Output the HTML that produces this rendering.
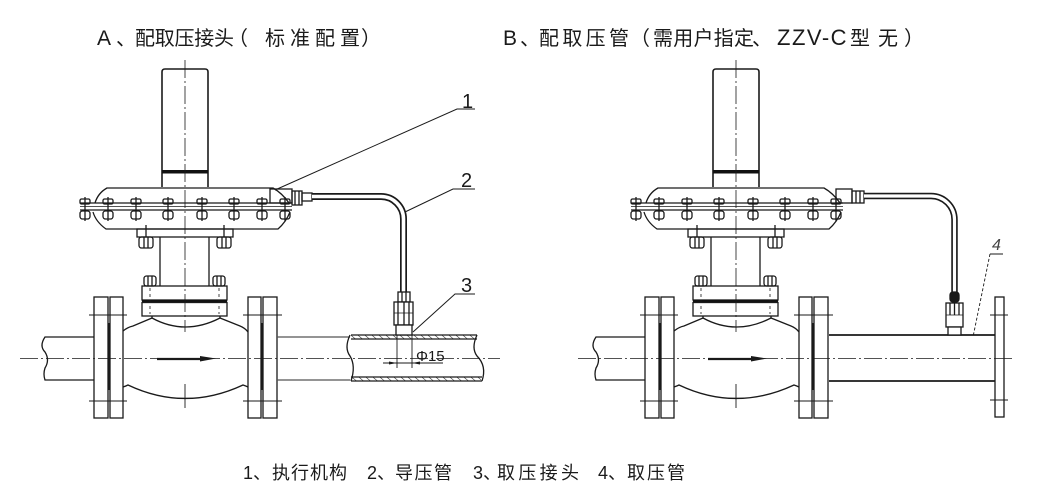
<!DOCTYPE html>
<html><head><meta charset="utf-8"><style>
html,body{margin:0;padding:0;background:#fff;}
svg{display:block;}
text{font-family:"Liberation Sans","Noto Sans CJK SC",sans-serif;fill:#1a1a1a;}
</style></head><body>
<svg width="1060" height="501" viewBox="0 0 1060 501" xmlns="http://www.w3.org/2000/svg">
<defs>
<pattern id="hat" width="4.5" height="4.5" patternUnits="userSpaceOnUse" patternTransform="rotate(-50)"><line x1="0" y1="0" x2="0" y2="4.5" stroke="#222" stroke-width="1.1"/></pattern>
<g id="valve" fill="none" stroke="#1a1a1a" stroke-width="1.3">
  <path d="M162,187 V72 Q162,69 165,69 H205 Q208,69 208,72 V187" stroke-width="1.6"/>
  <rect x="162" y="170" width="46" height="3.5" fill="#111" stroke="none"/>
  <path d="M95,203 Q98,193 107,188 H273 Q282,193 289,203"/>
  <path d="M93,212 Q96,222 106,229 H278 Q286,222 290,212"/>
  <line x1="80" y1="203" x2="292" y2="203"/>
  <line x1="80" y1="206.5" x2="292" y2="206.5" stroke-width="0.8"/>
  <line x1="80" y1="210" x2="292" y2="210"/>
  <g>
    <g transform="translate(85,0)"><rect x="-5" y="199" width="10" height="5" rx="1.5"/><rect x="-5" y="211" width="10" height="8" rx="2.5"/><line x1="0" y1="197" x2="0" y2="221"/></g>
    <g transform="translate(108,0)"><rect x="-5" y="199" width="10" height="5" rx="1.5"/><rect x="-5" y="211" width="10" height="8" rx="2.5"/><line x1="0" y1="197" x2="0" y2="221"/></g>
    <g transform="translate(136,0)"><rect x="-5" y="199" width="10" height="5" rx="1.5"/><rect x="-5" y="211" width="10" height="8" rx="2.5"/><line x1="0" y1="197" x2="0" y2="221"/></g>
    <g transform="translate(168,0)"><rect x="-5" y="199" width="10" height="5" rx="1.5"/><rect x="-5" y="211" width="10" height="8" rx="2.5"/><line x1="0" y1="197" x2="0" y2="221"/></g>
    <g transform="translate(202,0)"><rect x="-5" y="199" width="10" height="5" rx="1.5"/><rect x="-5" y="211" width="10" height="8" rx="2.5"/><line x1="0" y1="197" x2="0" y2="221"/></g>
    <g transform="translate(234,0)"><rect x="-5" y="199" width="10" height="5" rx="1.5"/><rect x="-5" y="211" width="10" height="8" rx="2.5"/><line x1="0" y1="197" x2="0" y2="221"/></g>
    <g transform="translate(262,0)"><rect x="-5" y="199" width="10" height="5" rx="1.5"/><rect x="-5" y="211" width="10" height="8" rx="2.5"/><line x1="0" y1="197" x2="0" y2="221"/></g>
    <g transform="translate(285,0)"><rect x="-5" y="199" width="10" height="5" rx="1.5"/><rect x="-5" y="211" width="10" height="8" rx="2.5"/><line x1="0" y1="197" x2="0" y2="221"/></g>
  </g>
  <rect x="137" y="229" width="96" height="8"/>
  <line x1="146" y1="225" x2="146" y2="237"/><line x1="224" y1="225" x2="224" y2="237"/>
  <rect x="139" y="237" width="14" height="11" rx="2.5"/><line x1="144" y1="237" x2="144" y2="248"/><line x1="148" y1="237" x2="148" y2="248"/>
  <rect x="217" y="237" width="14" height="11" rx="2.5"/><line x1="222" y1="237" x2="222" y2="248"/><line x1="226" y1="237" x2="226" y2="248"/>
  <line x1="160" y1="237" x2="160" y2="286"/><line x1="209" y1="237" x2="209" y2="286"/>
  <rect x="144" y="276" width="12" height="10" rx="2.5"/><line x1="148" y1="276" x2="148" y2="286"/><line x1="152" y1="276" x2="152" y2="286"/>
  <rect x="213" y="276" width="12" height="10" rx="2.5"/><line x1="217" y1="276" x2="217" y2="286"/><line x1="221" y1="276" x2="221" y2="286"/>
  <rect x="142" y="286" width="85" height="14"/>
  <rect x="142" y="300" width="85" height="2.8" fill="#111" stroke="none"/>
  <rect x="142" y="302.5" width="85" height="13.5"/>
  <line x1="150" y1="288" x2="150" y2="314" stroke-dasharray="3 3" stroke-width="0.8"/>
  <line x1="219" y1="288" x2="219" y2="314" stroke-dasharray="3 3" stroke-width="0.8"/>
  <path d="M123,331 Q128,327 133,326 L152,318 Q185,336 220,318 L240,326 Q245,328 248,332"/>
  <path d="M152,316 V318 M220,316 V318"/>
  <path d="M123,387 Q126,386 128,385 Q185,412 243,385 Q246,386 248,387"/>
  <rect x="94" y="297" width="14" height="121"/>
  <rect x="110" y="297" width="13" height="121"/>
  <rect x="248" y="297" width="13" height="121"/>
  <rect x="263" y="297" width="14" height="121"/>
  <line x1="109" y1="323" x2="109" y2="390" stroke-width="2.6"/>
  <line x1="262" y1="323" x2="262" y2="390" stroke-width="2.6"/>
  <line x1="89" y1="315" x2="127" y2="315" stroke-width="0.9"/><line x1="89" y1="401" x2="127" y2="401" stroke-width="0.9"/>
  <line x1="243" y1="315" x2="282" y2="315" stroke-width="0.9"/><line x1="243" y1="401" x2="282" y2="401" stroke-width="0.9"/>
  <line x1="157" y1="359" x2="203" y2="359" stroke-width="2.2"/>
  <polygon points="200,356 216,358.5 200,361.5" fill="#1a1a1a" stroke="none"/>
  <path d="M94,337 H45 Q39,346 45,352 Q50,360 45,368 Q43,374 45,380 H94"/>
  <line x1="185" y1="60" x2="185" y2="332" stroke-width="0.8" stroke-dasharray="18 3 2 3"/>
  <line x1="185" y1="384" x2="185" y2="408" stroke-width="0.9"/>
  <line x1="176" y1="398" x2="194" y2="398" stroke-width="0.6"/>
</g>
</defs>

<use href="#valve"/>
<use href="#valve" transform="translate(551,0)"/>

<g fill="none" stroke="#1a1a1a" stroke-width="1.3">
  <line x1="277" y1="337" x2="350" y2="337" stroke="#555"/>
  <line x1="277" y1="380" x2="350" y2="380" stroke="#555"/>
  <rect x="351" y="335" width="126" height="4" fill="url(#hat)" stroke="none"/>
  <rect x="351" y="377" width="130" height="4" fill="url(#hat)" stroke="none"/>
  <line x1="351" y1="335" x2="477" y2="335"/>
  <line x1="351" y1="339" x2="477" y2="339"/>
  <line x1="351" y1="377" x2="482" y2="377"/>
  <line x1="351" y1="381" x2="482" y2="381"/>
  <path d="M350,335 Q344,348 350,356 Q356,366 351,381"/>
  <path d="M477,335 Q471,348 477,356 Q487,366 482,381"/>
  <line x1="20" y1="358.5" x2="500" y2="358.5" stroke-width="0.8" stroke-dasharray="18 3 2 3"/>
  <rect x="270" y="189" width="22" height="14"/>
  <rect x="292" y="191" width="10" height="14"/>
  <line x1="295" y1="191" x2="295" y2="205"/><line x1="299" y1="191" x2="299" y2="205"/>
  <rect x="302" y="193" width="10" height="8"/>
  <path d="M312,196.5 H381 A22.5,22.5 0 0 1 403.5,219 V292" stroke-width="7"/>
  <path d="M312,196.5 H381 A22.5,22.5 0 0 1 403.5,219 V292" stroke="#fff" stroke-width="3.6"/>
  <rect x="398" y="292" width="12" height="10" fill="#fff"/>
  <line x1="402" y1="292" x2="402" y2="302"/><line x1="406" y1="292" x2="406" y2="302"/>
  <rect x="394" y="302" width="19" height="23" fill="#fff"/>
  <line x1="398" y1="302" x2="398" y2="325"/><line x1="404" y1="302" x2="404" y2="325"/><line x1="409" y1="302" x2="409" y2="325"/>
  <line x1="394" y1="313" x2="413" y2="313" stroke-width="0.8"/>
  <rect x="396" y="325" width="16" height="10" fill="#fff"/>
  <line x1="397" y1="335" x2="397" y2="368" stroke-width="0.9"/>
  <line x1="412" y1="335" x2="412" y2="368" stroke-width="0.9"/>
  <line x1="383" y1="363" x2="443" y2="363" stroke-width="0.9"/>
  <polygon points="389,361.5 397,363 389,364.5" fill="#1a1a1a" stroke="none"/>
  <polygon points="420,361.5 412,363 420,364.5" fill="#1a1a1a" stroke="none"/>
  <path d="M475,109 H457 L275,190" stroke-width="1"/>
  <path d="M475,189 H453 L405,212" stroke-width="1"/>
  <path d="M475,294 H455 L413,332" stroke-width="1"/>

  <line x1="829" y1="335" x2="995" y2="335" stroke-width="1.8"/>
  <line x1="829" y1="381" x2="995" y2="381" stroke-width="1.8"/>
  <rect x="995" y="297" width="9" height="120"/>
  <line x1="990" y1="315" x2="1008" y2="315" stroke-width="0.9"/>
  <line x1="990" y1="400" x2="1008" y2="400" stroke-width="0.9"/>
  <line x1="578" y1="358.5" x2="1012" y2="358.5" stroke-width="0.8" stroke-dasharray="18 3 2 3"/>
  <rect x="836" y="189" width="16" height="14"/>
  <rect x="852" y="191" width="12" height="12"/>
  <line x1="856" y1="191" x2="856" y2="203"/><line x1="860" y1="191" x2="860" y2="203"/>
  <path d="M864,196 H931 A23.5,23.5 0 0 1 954.5,219.5 V292" stroke-width="6.5"/>
  <path d="M864,196 H931 A23.5,23.5 0 0 1 954.5,219.5 V292" stroke="#fff" stroke-width="3.2"/>
  <rect x="950" y="292" width="9" height="10" rx="3" fill="#1a1a1a"/>
  <rect x="946" y="303" width="17" height="24" fill="#fff"/>
  <line x1="950" y1="303" x2="950" y2="315"/><line x1="954.5" y1="303" x2="954.5" y2="315"/><line x1="959" y1="303" x2="959" y2="315"/>
  <line x1="946" y1="315" x2="963" y2="315" stroke-width="0.8"/>
  <rect x="948" y="327" width="13" height="8" fill="#fff"/>
  <line x1="990" y1="254" x2="1003" y2="254" stroke-width="1"/>
  <line x1="990" y1="254" x2="973" y2="337" stroke-width="0.9" stroke-dasharray="3 2"/>
</g>

<text x="462" y="108" font-size="20">1</text>
<text x="461" y="187" font-size="20">2</text>
<text x="461" y="292" font-size="20">3</text>
<text x="992" y="250" font-size="16" style="fill:#444;font-style:italic">4</text>
<text x="416" y="361" font-size="15">Φ15</text>

<text x="97" y="45" font-size="21">A</text>
<text x="116" y="45" font-size="20">、</text>
<text x="135" y="45" font-size="20" textLength="99" lengthAdjust="spacing">配取压接头</text>
<text x="228" y="45" font-size="20">（</text>
<text x="265" y="45" font-size="20" textLength="95" lengthAdjust="spacing">标准配置</text>
<text x="361" y="45" font-size="20">）</text>

<text x="503" y="45" font-size="21">B</text>
<text x="520" y="45" font-size="20">、</text>
<text x="539" y="45" font-size="20" textLength="90" lengthAdjust="spacing">配取压管</text>
<text x="630" y="45" font-size="20">（</text>
<text x="653" y="45" font-size="20" textLength="101" lengthAdjust="spacing">需用户指定</text>
<text x="752" y="45" font-size="20">、</text>
<text x="777" y="45" font-size="22" style="letter-spacing:1.5px">ZZV-C</text>
<text x="850" y="45" font-size="20" textLength="48" lengthAdjust="spacing">型无</text>
<text x="904" y="45" font-size="20">）</text>

<text x="243" y="479" font-size="18">1</text>
<text x="253" y="479" font-size="18">、</text>
<text x="272" y="479" font-size="18" textLength="75" lengthAdjust="spacing">执行机构</text>
<text x="367" y="479" font-size="18">2</text>
<text x="377" y="479" font-size="18">、</text>
<text x="395" y="479" font-size="18" textLength="57" lengthAdjust="spacing">导压管</text>
<text x="473" y="479" font-size="18">3</text>
<text x="483" y="479" font-size="18">、</text>
<text x="497" y="479" font-size="18" textLength="82" lengthAdjust="spacing">取压接头</text>
<text x="598" y="479" font-size="18">4</text>
<text x="608" y="479" font-size="18">、</text>
<text x="627" y="479" font-size="18" textLength="58" lengthAdjust="spacing">取压管</text>
</svg>
</body></html>
